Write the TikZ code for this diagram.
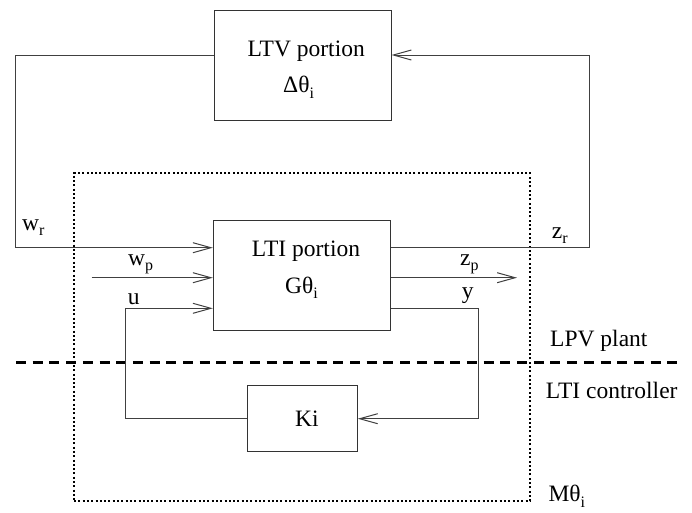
\documentclass[tikz,border=0pt]{standalone}
\usepackage{fontspec}
\setmainfont{Liberation Serif}
\usetikzlibrary{arrows.meta}
\newcommand{\mysub}[1]{\raisebox{-5.5pt}{\fontsize{16}{16}\selectfont #1}}
\begin{document}
\begin{tikzpicture}[x=1pt,y=-1pt,
  box/.style={draw=black!80, line width=1pt, inner sep=0pt},
  wire/.style={draw=black!75, line width=1pt},
  arr/.style={wire, -{Straight Barb[length=18pt,width=10pt]}},
  dotbox/.style={draw=black, line width=2pt, dash pattern=on 2pt off 2.3pt, inner sep=0pt},
  dashline/.style={draw=black, line width=2.6pt, dash pattern=on 10pt off 6.7pt},
  lbl/.style={font=\fontsize{23.5}{27}\selectfont, inner sep=0pt, anchor=base west},
]
\useasboundingbox (0,0) rectangle (692,512);
% boxes
\node[box, minimum width=177pt, minimum height=110pt] (ltv) at (302.5,65.7) {};
\node[box, minimum width=177.4pt, minimum height=110pt] (lti) at (302,275.7) {};
\node[box, minimum width=110pt, minimum height=66pt] (ki) at (302.3,418.7) {};
\node[dotbox, minimum width=456pt, minimum height=328pt] (m) at (302,337) {};
% box texts
\node[lbl] (ltvt) at (247.3,56) {LTV portion};
\node[lbl] (ltvs) at (283,92.7) {Δθ\mysub{i}};
\node[lbl] (ltit) at (251.7,256.7) {LTI portion};
\node[lbl] (ltis) at (285,293) {Gθ\mysub{i}};
\node[lbl] (kit) at (295,426) {Ki};
% dashed separator
\coordinate (d1) at (16,362.7);
\coordinate (d2) at (677,362.7);
\draw[dashline] (d1) -- (d2);
% connectors
\coordinate (c1) at (15.7,55);
\coordinate (c2) at (15.7,247.7);
\coordinate (c3) at (589.3,247.7);
\coordinate (c4) at (589.3,55);
\coordinate (wp) at (91.7,277.7);
\coordinate (zp) at (517,277.7);
\coordinate (c5) at (125.7,308.3);
\coordinate (c6) at (478.7,308.3);
\draw[arr] (c1 -| ltv.west) -- (c1) -- (c2) -- (c2 -| lti.west);
\draw[arr] (c3 -| lti.east) -- (c3) -- (c4) -- (c4 -| ltv.east);
\draw[arr] (wp) -- (wp -| lti.west);
\draw[arr] (zp -| lti.east) -- (zp);
\draw[arr] (ki.west) -- (ki.west -| c5) -- (c5) -- (c5 -| lti.west);
\draw[arr] (c6 -| lti.east) -- (c6) -- (c6 |- ki.east) -- (ki.east);
% signal labels
\node[lbl] (lwr) at (22,230) {w\mysub{r}};
\node[lbl] (lwp) at (128,265) {w\mysub{p}};
\node[lbl] (lu) at (127.7,304) {u};
\node[lbl] (lzr) at (551.7,238.3) {z\mysub{r}};
\node[lbl] (lzp) at (460,265) {z\mysub{p}};
\node[lbl] (ly) at (461.7,298) {y};
% region labels
\node[lbl] (lpv) at (550,346.7) {LPV plant};
\node[lbl] (ltic) at (545.7,398.5) {LTI controller};
\node[lbl] (lm) at (548.3,501.5) {Mθ\mysub{i}};
\end{tikzpicture}
\end{document}
